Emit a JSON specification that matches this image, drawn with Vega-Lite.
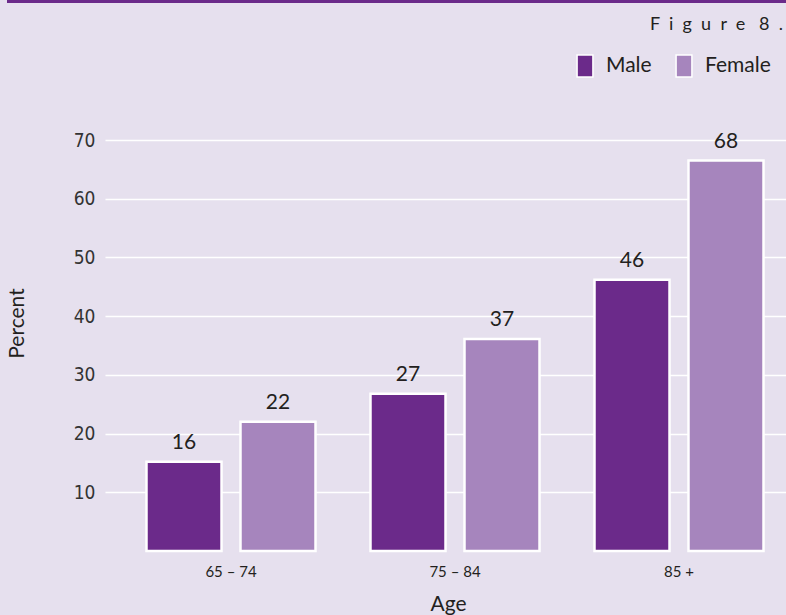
{
  "$schema": "https://vega.github.io/schema/vega-lite/v6.json",
  "width": 686,
  "height": 411,
  "autosize": {"type": "none"},
  "padding": {"left": 105, "top": 140, "right": 0, "bottom": 64},
  "background": "#E6E0EE",
  "config": {"view": {"stroke": null}, "font": "Lato"},
  "title": {
    "text": "F\u00a0\u00a0i\u00a0\u00a0g\u00a0\u00a0u\u00a0\u00a0r\u00a0\u00a0e\u00a0\u00a0\u00a08\u00a0\u00a0.",
    "orient": "top",
    "anchor": "end",
    "frame": "group",
    "baseline": "bottom",
    "offset": 0,
    "dy": 52,
    "dx": -8,
    "font": "Lato",
    "fontSize": 18,
    "fontWeight": "normal",
    "color": "#231F20"
  },
  "data": {
    "values": [
      {"age": "65 – 74", "sex": "Male", "percent": 15.2, "label": "16"},
      {"age": "65 – 74", "sex": "Female", "percent": 22.0, "label": "22"},
      {"age": "75 – 84", "sex": "Male", "percent": 26.8, "label": "27"},
      {"age": "75 – 84", "sex": "Female", "percent": 36.1, "label": "37"},
      {"age": "85 +", "sex": "Male", "percent": 46.2, "label": "46"},
      {"age": "85 +", "sex": "Female", "percent": 66.5, "label": "68"}
    ]
  },
  "encoding": {
    "x": {
      "field": "age",
      "type": "nominal",
      "sort": null,
      "scale": {"paddingInner": 0, "paddingOuter": 0.03125, "align": 1},
      "axis": {
        "title": "Age",
        "domain": false,
        "ticks": false,
        "labelAngle": 0,
        "labelFont": "Lato",
        "labelFontSize": 15,
        "labelColor": "#231F20",
        "labelPadding": 13,
        "titleFont": "Lato",
        "titleFontSize": 21,
        "titleFontWeight": "normal",
        "titleColor": "#231F20",
        "titlePadding": 14
      }
    },
    "xOffset": {
      "field": "sex",
      "sort": ["Male", "Female"],
      "scale": {"paddingInner": 0.202, "paddingOuter": 0.2925}
    },
    "y": {
      "field": "percent",
      "type": "quantitative",
      "scale": {"domain": [0, 70], "nice": false},
      "axis": {
        "title": "Percent",
        "values": [10, 20, 30, 40, 50, 60, 70],
        "domain": false,
        "ticks": false,
        "grid": true,
        "gridColor": "#FFFFFF",
        "gridWidth": 1.5,
        "labelFont": "DejaVu Sans Condensed, Roboto, sans-serif",
        "labelFontSize": 19,
        "labelColor": "#333333",
        "labelPadding": 10,
        "titleFont": "Lato",
        "titleFontSize": 21,
        "titleFontWeight": "normal",
        "titleColor": "#231F20",
        "titleX": -82,
        "titleY": 183,
        "titleAngle": 270,
        "titleAlign": "center",
        "titleBaseline": "alphabetic"
      }
    }
  },
  "layer": [
    {
      "data": {"values": [{"pos": 93.6}]},
      "mark": {"type": "rule", "color": "#6B2A8A", "strokeWidth": 3},
      "encoding": {
        "y": {"field": "pos", "type": "quantitative"},
        "x": {"value": -98},
        "x2": {"value": 686},
        "xOffset": null
      }
    },
    {
      "mark": {"type": "bar", "stroke": "#FFFFFF", "strokeWidth": 2.5},
      "encoding": {
        "color": {
          "field": "sex",
          "type": "nominal",
          "scale": {"domain": ["Male", "Female"], "range": ["#6B2A8A", "#A685BD"]},
          "legend": {
            "title": null,
            "orient": "none",
            "legendX": 468,
            "legendY": -86,
            "direction": "horizontal",
            "symbolType": "M-0.72,-1H0.72V1H-0.72Z",
            "symbolSize": 484,
            "symbolStrokeColor": "#FFFFFF",
            "symbolStrokeWidth": 1.5,
            "symbolOpacity": 1,
            "labelFont": "Lato",
            "labelFontSize": 21,
            "labelColor": "#231F20",
            "labelOffset": 9,
            "columnPadding": 20
          }
        }
      }
    },
    {
      "mark": {"type": "text", "baseline": "alphabetic", "dy": -13, "fontSize": 21, "font": "Lato", "color": "#231F20"},
      "encoding": {"text": {"field": "label"}}
    }
  ]
}
